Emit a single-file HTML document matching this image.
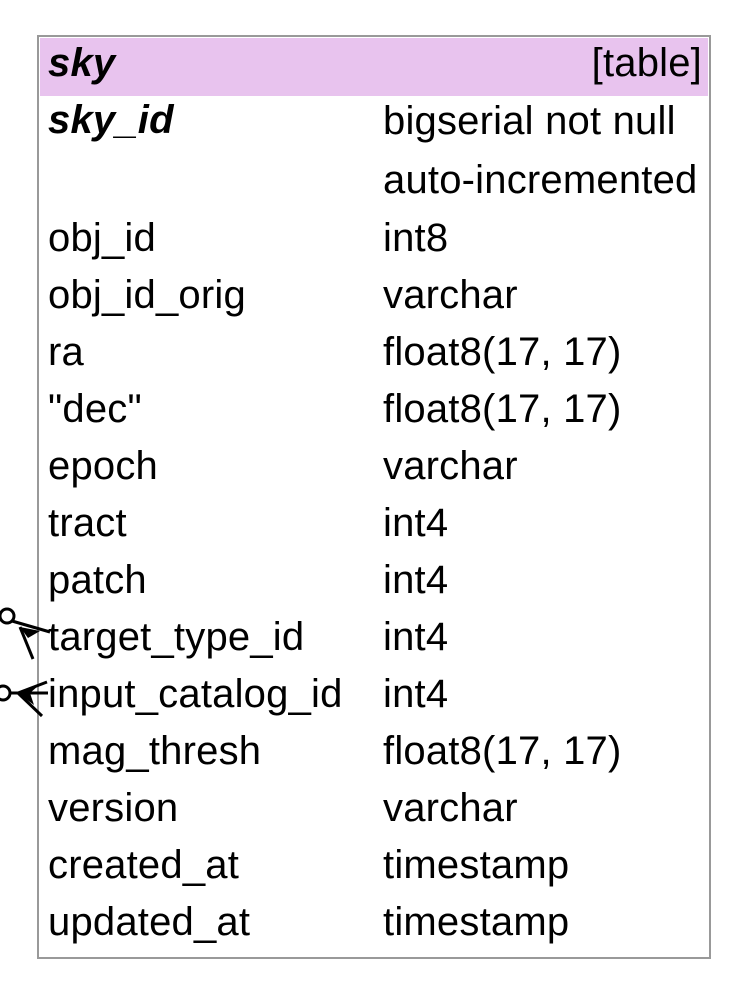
<!DOCTYPE html>
<html><head><style>
body{margin:0;background:#fff;width:742px;height:984px;overflow:hidden;font-family:"Liberation Sans",sans-serif;}
.box{position:absolute;left:37px;top:35px;width:670px;height:920px;border:2px solid #999;}
.hdr{position:absolute;left:40px;top:38px;width:668px;height:58px;background:#e8c3ee;}
.t{position:absolute;font-size:40px;letter-spacing:0.2px;line-height:40px;color:#000;white-space:nowrap;}
</style></head><body>
<div class="box"></div>
<div class="hdr"></div>
<div class="t" style="left:48px;top:43px;font-weight:bold;font-style:italic">sky</div>
<div class="t" style="right:40px;top:43px">[table]</div>
<div class="t" style="left:48px;top:100px;font-weight:bold;font-style:italic">sky_id</div>
<div class="t" style="left:383px;top:101px">bigserial not null</div>
<div class="t" style="left:383px;top:160px">auto-incremented</div>
<div class="t" style="left:48px;top:218px">obj_id</div><div class="t" style="left:383px;top:218px">int8</div>
<div class="t" style="left:48px;top:275px">obj_id_orig</div><div class="t" style="left:383px;top:275px">varchar</div>
<div class="t" style="left:48px;top:332px">ra</div><div class="t" style="left:383px;top:332px">float8(17, 17)</div>
<div class="t" style="left:48px;top:389px">"dec"</div><div class="t" style="left:383px;top:389px">float8(17, 17)</div>
<div class="t" style="left:48px;top:446px">epoch</div><div class="t" style="left:383px;top:446px">varchar</div>
<div class="t" style="left:48px;top:503px">tract</div><div class="t" style="left:383px;top:503px">int4</div>
<div class="t" style="left:48px;top:560px">patch</div><div class="t" style="left:383px;top:560px">int4</div>
<div class="t" style="left:48px;top:617px">target_type_id</div><div class="t" style="left:383px;top:617px">int4</div>
<div class="t" style="left:48px;top:674px">input_catalog_id</div><div class="t" style="left:383px;top:674px">int4</div>
<div class="t" style="left:48px;top:731px">mag_thresh</div><div class="t" style="left:383px;top:731px">float8(17, 17)</div>
<div class="t" style="left:48px;top:788px">version</div><div class="t" style="left:383px;top:788px">varchar</div>
<div class="t" style="left:48px;top:845px">created_at</div><div class="t" style="left:383px;top:845px">timestamp</div>
<div class="t" style="left:48px;top:902px">updated_at</div><div class="t" style="left:383px;top:902px">timestamp</div>
<svg width="742" height="984" style="position:absolute;left:0;top:0">
<g stroke="#000" stroke-width="3" fill="none">
<circle cx="7" cy="616" r="7" fill="#fff"/>
<line x1="12" y1="621" x2="50" y2="632"/>
<line x1="20" y1="627" x2="33" y2="659"/>
<circle cx="3" cy="693" r="7" fill="#fff"/>
<line x1="10" y1="693" x2="48" y2="693"/>
<line x1="18" y1="693" x2="47" y2="682"/>
<line x1="18" y1="693" x2="42" y2="716"/>
</g>
<polygon points="20,627 40,631 28,638" fill="#000"/>
<polygon points="18,693 38,686 30,693 34,705" fill="#000"/>
</svg>
</body></html>
